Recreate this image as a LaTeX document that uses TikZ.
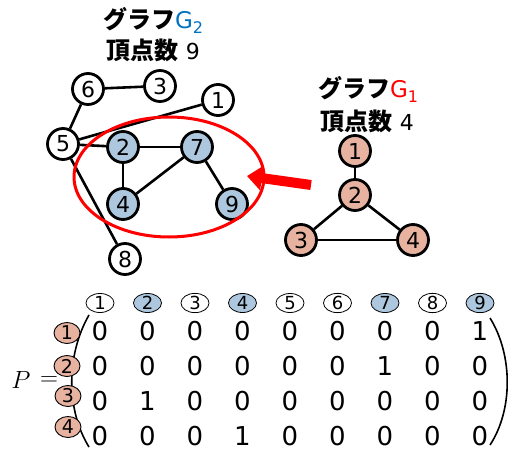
\documentclass[tikz,border=0pt]{standalone}
\usepackage{fontspec}
\setmainfont{DejaVu Sans}
\newfontfamily\jp{Noto Sans CJK JP}
\usetikzlibrary{shapes.geometric,arrows.meta}
\definecolor{nblue}{RGB}{173,200,222}
\definecolor{nsalmon}{RGB}{232,178,160}
\definecolor{tblue}{RGB}{0,112,192}
\begin{document}
\begin{tikzpicture}[x=1pt,y=-1pt,
  vtx/.style={circle,draw,line width=2.8pt,minimum size=31pt,inner sep=0pt,font=\fontsize{22}{22}\selectfont},
  wv/.style={vtx,fill=white},
  bv/.style={vtx,fill=nblue},
  sv/.style={vtx,fill=nsalmon},
  edge/.style={line width=2.6pt},
  hdr/.style={ellipse,draw,line width=0.8pt,minimum width=28pt,minimum height=19pt,inner sep=0pt,font=\fontsize{18}{18}\selectfont},
  rowlab/.style={ellipse,draw,line width=0.9pt,fill=nsalmon,minimum width=26pt,minimum height=21pt,inner sep=0pt,font=\fontsize{19}{19}\selectfont},
  entry/.style={inner sep=0pt,font=\fontsize{26}{26}\selectfont},
  title/.style={inner sep=0pt,font=\fontsize{24}{24}\selectfont}
]
\useasboundingbox (0,0) rectangle (508,452);

% titles
\node[title] (t2a) at (153,20) {{\jp\bfseries グラフ}{\normalfont\fontsize{23}{23}\selectfont\color{tblue}G\raisebox{-5pt}{\fontsize{16}{16}\selectfont 2}}};
\node[title] (t2b) at (153,50) {{\jp\bfseries 頂点数}\ {\normalfont\fontsize{22}{22}\selectfont 9}};
\node[title] (t1a) at (368,89) {{\jp\bfseries グラフ}{\normalfont\fontsize{23}{23}\selectfont\color{red}G\raisebox{-5pt}{\fontsize{16}{16}\selectfont 1}}};
\node[title] (t1b) at (367,121) {{\jp\bfseries 頂点数}\ {\normalfont\fontsize{22}{22}\selectfont 4}};

% G2
\node[wv] (a6) at (88,89) {6};
\node[wv] (a3) at (160,86) {3};
\node[wv] (a1) at (218,100) {1};
\node[wv] (a5) at (63,144) {5};
\node[bv] (a2) at (123,147) {2};
\node[bv] (a7) at (197,147) {7};
\node[bv] (a4) at (123,204) {4};
\node[bv] (a9) at (232,204) {9};
\node[wv] (a8) at (125,259) {8};
\draw[edge] (a6) -- (a3);
\draw[edge] (a6) -- (a5);
\draw[edge] (a5) -- (a1);
\draw[edge] (a5) -- (a2);
\draw[edge] (a5) -- (a8);
\draw[edge] (a2) -- (a7);
\draw[edge] (a2) -- (a4);
\draw[edge] (a7) -- (a4);
\draw[edge] (a7) -- (a9);
\draw[red,line width=3pt] (169,177) ellipse [x radius=95pt, y radius=60pt];

% G1
\node[sv] (b1) at (355,151) {1};
\node[sv] (b2) at (355,195) {2};
\node[sv] (b3) at (301,240) {3};
\node[sv] (b4) at (413,240) {4};
\draw[edge] (b1) -- (b2);
\draw[edge] (b2) -- (b3);
\draw[edge] (b2) -- (b4);
\draw[edge] (b3) -- (b4);

% arrow
\coordinate (arrS) at (311,185);
\coordinate (arrE) at (247,176);
\draw[red,line width=10pt,-{Triangle[length=15pt,width=24pt]}] (arrS) -- (arrE);

% matrix
\node[inner sep=0pt,font=\fontsize{31}{31}\selectfont] (P) at (21,380) {$P$};
\node[inner sep=0pt,font=\fontsize{30}{30}\selectfont] (eq) at (49,381) {$=$};
\draw[line width=1.6pt] (89,315) .. controls (66,355) and (66,410) .. (89,447);
\draw[line width=1.6pt] (490,318) .. controls (513,355) and (513,410) .. (490,445);
\foreach \c/\f in {1/white,2/nblue,3/white,4/nblue,5/white,6/white,7/nblue,8/white,9/nblue}{
  \node[hdr,fill=\f] (h\c) at ({100+47.5*(\c-1)},303) {\c};
}
\foreach \r/\y/\lx in {1/333/67,2/366/67,3/396/68,4/427/68}{
  \node[rowlab] (r\r) at (\lx,\y) {\r};
}
\foreach \r/\y/\one in {1/331/9,2/366/7,3/401/2,4/436/4}{
  \foreach \c in {1,...,9}{
    \ifnum\c=\one\relax
      \node[entry] (m\r\c) at ({100+47.5*(\c-1)},\y) {1};
    \else
      \node[entry] (m\r\c) at ({100+47.5*(\c-1)},\y) {0};
    \fi
  }
}
\end{tikzpicture}
\end{document}
